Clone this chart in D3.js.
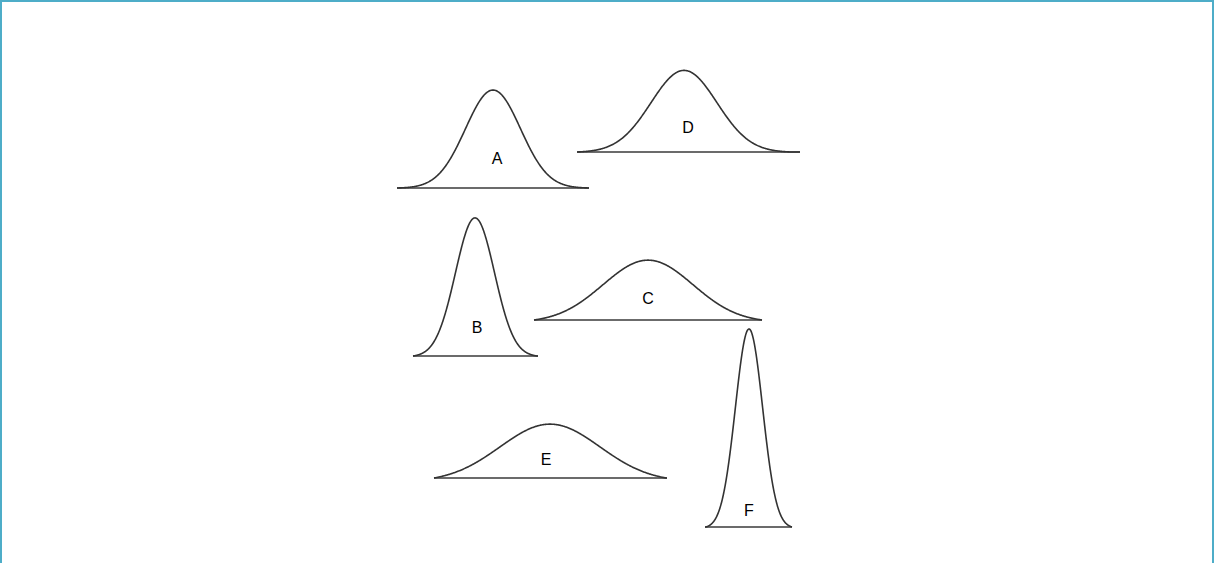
<!DOCTYPE html>
<html>
<head>
<meta charset="utf-8">
<script src="https://cdn.jsdelivr.net/npm/d3@7/dist/d3.min.js"></script>
<style>
  html, body { margin: 0; padding: 0; background: #fff; }
  svg { display: block; }
</style>
</head>
<body>
<svg id="chart" width="1215" height="563"></svg>
<script>
// Six normal distributions, each with the same area, differing only in spread.
const labels = ["A", "B", "C", "D", "E", "F"];
const stdDevs = [2.75, 1.95, 4.5, 3.3, 5.0, 1.36];

// Where each distribution sits on the page and how far its axis runs (in x-units).
const layout = [
  { cx: 493, base: 188, from: -9.6,  to: 9.6,  lx: 4,  ly: -24 },
  { cx: 475, base: 356, from: -6.2,  to: 6.3,  lx: 2,  ly: -23 },
  { cx: 648, base: 320, from: -11.4, to: 11.4, lx: 0,  ly: -16 },
  { cx: 684, base: 152, from: -10.7, to: 11.6, lx: 4,  ly: -19 },
  { cx: 550, base: 478, from: -11.6, to: 11.7, lx: -4, ly: -13 },
  { cx: 749, base: 527, from: -4.4,  to: 4.3,  lx: 0,  ly: -11 }
];

const svg = d3.select("#chart");
const W = 1215, H = 563;

// Frame
svg.append("rect")
  .attr("x", 1).attr("y", 1)
  .attr("width", W - 3).attr("height", H + 20)
  .attr("fill", "none")
  .attr("stroke", "#4eadc8")
  .attr("stroke-width", 2);

// Shared scales: horizontal offset from the mean, and density height above the axis.
const x = d3.scaleLinear().domain([-12, 12]).range([-120, 120]);
const y = d3.scaleLinear().domain([0, 0.3]).range([0, -202.5]);

const gauss = (v, sd) => Math.exp(-0.5 * (v / sd) * (v / sd));
const peak = sd => 1 / (sd * Math.sqrt(2 * Math.PI));

const line = d3.line()
  .x(d => x(d[0]))
  .y(d => y(d[1]))
  .curve(d3.curveLinear);

labels.forEach((lab, i) => {
  const sd = stdDevs[i];
  const L = layout[i];
  const g = svg.append("g").attr("transform", `translate(${L.cx},${L.base})`);

  // axis line
  g.append("line")
    .attr("x1", x(L.from)).attr("x2", x(L.to))
    .attr("y1", 0).attr("y2", 0)
    .attr("stroke", "#3a3a3a")
    .attr("stroke-width", 1.6);

  // density curve, brought down to meet the axis at both ends
  const edge = Math.max(gauss(L.from, sd), gauss(L.to, sd));
  const pts = d3.range(0, 401).map(k => {
    const v = L.from + (L.to - L.from) * k / 400;
    const t = Math.max(0, (gauss(v, sd) - edge) / (1 - edge));
    return [v, peak(sd) * t];
  });
  g.append("path")
    .attr("d", line(pts))
    .attr("fill", "none")
    .attr("stroke", "#333")
    .attr("stroke-width", 1.6);

  g.append("text")
    .attr("x", L.lx)
    .attr("y", L.ly)
    .attr("text-anchor", "middle")
    .attr("font-family", "Arial, 'Liberation Sans', sans-serif")
    .attr("font-size", 16)
    .attr("fill", "#000")
    .text(lab);
});
</script>
</body>
</html>
